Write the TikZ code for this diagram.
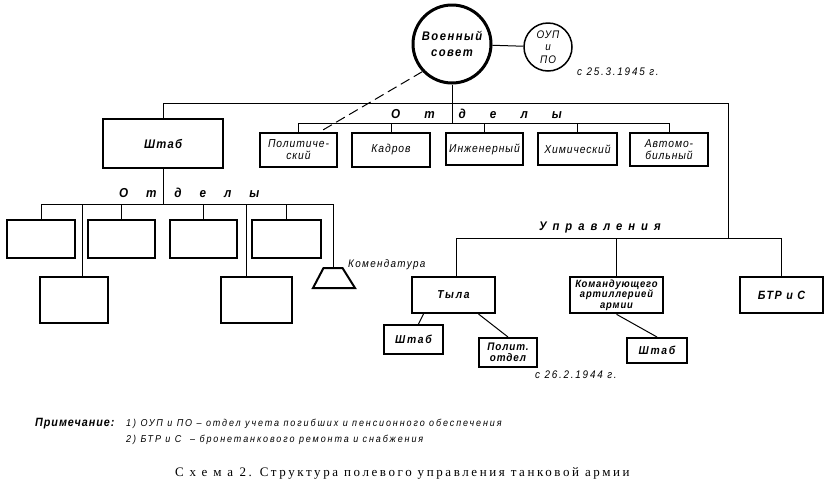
\documentclass[tikz,border=0pt]{standalone}
\usepackage{fontspec}
\setmainfont{Liberation Sans}
\newfontfamily\drf[FakeStretch=0.9]{Liberation Sans}
\newfontfamily\capf{Liberation Serif}
\newcommand\dfont[3]{\drf\itshape\fontsize{#1}{#2}\selectfont\addfontfeature{LetterSpace=#3}}
\newcommand\dfontb[3]{\drf\bfseries\itshape\fontsize{#1}{#2}\selectfont\addfontfeature{LetterSpace=#3}}
\tikzset{
  conn/.style={line width=1pt},
  box/.style={draw, line width=2pt, rectangle, inner sep=0pt, align=center,
     font=\dfont{11.5}{12}{8}},
  bigbox/.style={box, line width=2.6pt},
  lbl/.style={inner sep=0pt, font=\dfont{11}{12}{12}},
}
\begin{document}
\begin{tikzpicture}[x=1pt,y=-1pt]
\useasboundingbox (0,0) rectangle (832,491);
% circles
\node[draw, circle, line width=3pt, minimum size=78pt, inner sep=0pt, align=center,
  font=\dfontb{12.5}{16}{12}] (sovet) at (452,44) {Военный\\совет};
\node[draw, circle, line width=1.5pt, minimum size=48pt, inner sep=0pt, align=center,
  font=\dfont{11}{12.5}{10}] (oup) at (548,47) {ОУП\\и\\ПО};
\node[lbl, anchor=west, font=\dfont{11}{12}{16}] (date1) at (577,72) {с 25.3.1945 г.};
\draw[conn] (sovet) -- (oup);
% HQ
\node[bigbox, minimum width=120pt, minimum height=49pt,
  font=\dfontb{12.5}{14}{10}] (shtab) at (163,143.5) {Штаб};
% departments
\node[box, minimum width=77pt, minimum height=34pt] (pol) at (298.5,150) {Политиче-\\ский};
\node[box, minimum width=78pt, minimum height=34pt] (kadr) at (391,150) {Кадров};
\node[box, minimum width=77pt, minimum height=32pt] (ing) at (484.5,149) {Инженерный};
\node[box, minimum width=79pt, minimum height=32pt] (him) at (577.5,149) {Химический};
\node[box, minimum width=78pt, minimum height=33pt] (avto) at (669,149.5) {Автомо-\\бильный};
\coordinate (busA) at (0,103);
\coordinate (busD) at (0,123);
\coordinate (right) at (728,103);
\coordinate (busU) at (0,238);
\draw[conn] (shtab.north) -- (shtab.north |- busA) -- (right) -- (right |- busU);
\draw[conn] (sovet.south) -- (sovet.south |- busD);
\draw[conn] (pol.north |- busD) -- (avto.north |- busD);
\foreach \n in {pol,kadr,ing,him,avto} \draw[conn] (\n.north |- busD) -- (\n.north);
\node[inner sep=0pt, anchor=west, font=\dfontb{13}{14}{185}] (otd1) at (391,114) {Отделы};
\draw[conn, dash pattern=on 10pt off 5pt] (sovet.223) -- ([xshift=21pt]pol.north);
% left subtree
\node[box, minimum width=68pt, minimum height=38pt] (b1) at (41,239) {};
\node[box, minimum width=67pt, minimum height=38pt] (b2) at (121.5,239) {};
\node[box, minimum width=67pt, minimum height=38pt] (b3) at (203.5,239) {};
\node[box, minimum width=69pt, minimum height=38pt] (b4) at (286.5,239) {};
\node[box, minimum width=68pt, minimum height=46pt] (b5) at (74,300) {};
\node[box, minimum width=71pt, minimum height=46pt] (b6) at (256.5,300) {};
\coordinate (kom) at (333,268);
\draw[line width=2pt, line join=miter] (323.5,268) -- (342.5,268) -- (355,288) -- (313,288) -- cycle;
\node[lbl, anchor=west] (komlbl) at (348,265) {Комендатура};
\coordinate (busL) at (0,204);
\draw[conn] (shtab.south) -- (shtab.south |- busL);
\draw[conn] (b1.north |- busL) -- (kom |- busL) -- (kom);
\foreach \n in {b1,b2,b3,b4} \draw[conn] (\n.north |- busL) -- (\n.north);
\draw[conn] ([xshift=8pt]b5.north |- busL) -- ([xshift=8pt]b5.north);
\draw[conn] ([xshift=-10.5pt]b6.north |- busL) -- ([xshift=-10.5pt]b6.north);
\node[inner sep=0pt, anchor=west, font=\dfontb{13}{14}{138}] (otd2) at (119,193) {Отделы};
% Upravleniya
\node[box, minimum width=83pt, minimum height=36pt, font=\dfontb{11.5}{12}{15}] (tyla) at (453.5,295) {Тыла};
\node[bigbox, minimum width=93pt, minimum height=36pt,
  font=\dfontb{10.5}{10.5}{8}] (art) at (616.5,295) {Командующего\\артиллерией\\армии};
\node[box, minimum width=83pt, minimum height=36pt,
  font=\dfontb{12}{13}{12}] (btr) at (781.5,295) {БТР и С};
\draw[conn] ([xshift=2.5pt]tyla.north |- busU) -- (btr.north |- busU);
\draw[conn] ([xshift=2.5pt]tyla.north |- busU) -- ([xshift=2.5pt]tyla.north);
\draw[conn] (art.north |- busU) -- (art.north);
\draw[conn] (btr.north |- busU) -- (btr.north);
\node[inner sep=0pt, anchor=west, font=\dfontb{12.5}{14}{48}] (upr) at (539,227) {Управления};
\node[box, minimum width=59pt, minimum height=29pt, font=\dfontb{11.5}{12}{15}] (sh2) at (413.5,339.5) {Штаб};
\node[box, minimum width=58pt, minimum height=29pt, font=\dfontb{11}{11}{8}] (polit) at (508,352.5) {Полит.\\отдел};
\node[box, minimum width=60pt, minimum height=25pt, font=\dfontb{11.5}{12}{15}] (sh3) at (657,350.5) {Штаб};
\node[lbl, anchor=west, font=\dfont{11}{12}{16}] (date2) at (535,375) {с 26.2.1944 г.};
\draw[conn] ([xshift=-30pt]tyla.south) -- ([xshift=5pt]sh2.north);
\draw[conn] ([xshift=25pt]tyla.south) -- (polit.north);
\draw[conn] (art.south) -- (sh3.north);
% notes
\node[inner sep=0pt, anchor=west, font=\dfontb{12}{12}{8}] (note) at (35,424) {Примечание:};
\node[lbl, anchor=west, font=\dfont{10}{12}{19}] (n1) at (126,424) {1) ОУП и ПО – отдел учета погибших и пенсионного обеспечения};
\node[lbl, anchor=west, font=\dfont{10}{12}{19}] (n2) at (126,440) {2) БТР и С\ \ – бронетанкового ремонта и снабжения};
% caption
\node[inner sep=0pt, anchor=west, font=\capf\fontsize{13}{14}\selectfont] (cap) at (175,473)
  {{\addfontfeature{LetterSpace=45}Схема}\ \ \addfontfeature{LetterSpace=20}2. Структура полевого управления танковой армии};
\end{tikzpicture}
\end{document}
